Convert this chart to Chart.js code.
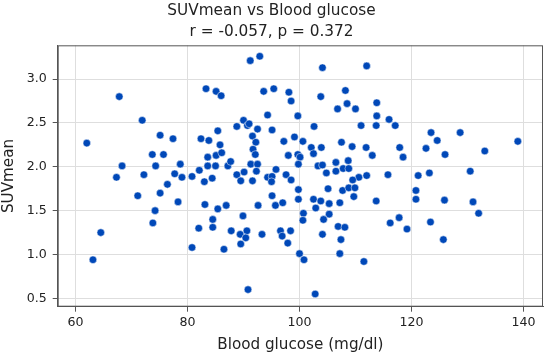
<!DOCTYPE html>
<html lang="en">
<head>
  <meta charset="UTF-8">
  <title>SUVmean vs Blood glucose</title>
  <style>
    body { margin: 0; background: #fff; }
    #chartBox { width: 550px; height: 358px; }
  </style>
</head>
<body>
<div id="chartBox">
  <canvas id="myChart" width="550" height="358"></canvas>
</div>
<script src="https://cdn.jsdelivr.net/npm/chart.js"></script>
<script>
  // values
  const glucose = [
    67.8, 71.9, 62.0, 75.1, 77.4, 73.7, 75.7, 68.3, 74.3, 78.7,
    67.3, 72.2, 77.7, 79.0, 80.8, 82.1, 84.4, 83.0, 76.4, 83.3,
    85.1, 86.0, 82.4, 83.8, 85.4, 85.8, 83.6, 85.1, 86.1, 83.6,
    85.0, 91.2, 92.9, 104.1, 112.0, 93.6, 95.4, 98.1, 98.5, 103.8,
    108.2, 108.5, 106.8, 110.0, 113.8, 113.8, 113.7, 111.0, 94.3, 99.7,
    102.6, 90.0, 90.7, 91.0, 88.8, 92.5, 95.1, 91.6, 92.2, 99.1,
    100.6, 97.2, 91.7, 92.1, 98.0, 99.7, 100.1, 102.1, 102.5, 103.9,
    107.5, 109.4, 111.9, 113.0, 87.2, 87.7, 91.3, 92.5, 95.8, 92.3,
    99.8, 103.3, 104.1, 104.8, 106.5, 106.5, 107.8, 108.7, 108.8, 112.0,
    110.6, 109.5, 88.8, 90.1, 89.5, 91.6, 94.3, 95.1, 95.0, 97.6,
    98.5, 99.8, 105.1, 107.7, 108.8, 109.9, 95.1, 99.8, 102.5, 103.8,
    105.3, 107.2, 109.7, 113.7, 95.7, 97.0, 92.6, 86.9, 85.4, 102.9,
    105.3, 100.7, 100.6, 104.3, 106.9, 108.1, 89.9, 87.8, 90.6, 89.4,
    90.4, 89.5, 93.3, 96.6, 96.9, 98.4, 97.9, 104.1, 107.4, 86.5,
    100.0, 100.8, 107.2, 111.5, 90.8, 102.8, 71.1, 75.1, 78.3, 83.1,
    74.2, 73.8, 84.5, 82.0, 84.5, 64.5, 63.1, 80.8, 116.0, 117.1,
    123.5, 128.7, 124.6, 139.0, 117.9, 122.6, 118.5, 126.0, 133.1, 115.8,
    121.2, 123.2, 130.5, 120.8, 120.8, 125.9, 131.0, 132.0, 116.2, 117.8,
    119.2, 123.4, 125.7
  ];
  const suvMean = [
    2.80, 2.53, 2.27, 2.36, 2.32, 2.14, 2.14, 2.01, 2.01, 2.03,
    1.88, 1.91, 1.92, 1.88, 1.89, 1.96, 1.87, 1.83, 1.80, 2.89,
    2.86, 2.81, 2.32, 2.30, 2.41, 2.25, 2.11, 2.13, 2.16, 2.01,
    2.01, 3.21, 3.26, 3.13, 3.15, 2.86, 2.89, 2.85, 2.75, 2.80,
    2.87, 2.72, 2.66, 2.66, 2.73, 2.58, 2.47, 2.47, 2.59, 2.58,
    2.46, 2.53, 2.47, 2.49, 2.46, 2.43, 2.42, 2.35, 2.28, 2.34,
    2.29, 2.29, 2.20, 2.14, 2.13, 2.14, 2.11, 2.22, 2.15, 2.22,
    2.28, 2.23, 2.22, 2.13, 2.01, 2.06, 2.03, 2.03, 1.97, 1.95,
    2.03, 2.01, 2.02, 1.93, 2.05, 1.95, 1.98, 2.07, 1.98, 1.90,
    1.88, 1.85, 1.91, 1.94, 1.84, 1.84, 1.88, 1.89, 1.83, 1.91,
    1.85, 1.74, 1.75, 1.73, 1.76, 1.76, 1.67, 1.63, 1.63, 1.61,
    1.58, 1.59, 1.66, 1.61, 1.56, 1.59, 1.56, 1.56, 1.52, 1.53,
    1.46, 1.47, 1.39, 1.40, 1.32, 1.31, 1.44, 1.27, 1.27, 1.23,
    1.19, 1.12, 1.23, 1.27, 1.21, 1.27, 1.13, 1.23, 1.17, 1.06,
    1.01, 0.94, 1.01, 0.92, 0.60, 0.55, 1.67, 1.70, 1.60, 1.57,
    1.50, 1.36, 1.40, 1.30, 1.31, 1.25, 0.94, 1.08, 2.54, 2.47,
    2.39, 2.39, 2.30, 2.29, 2.22, 2.21, 2.11, 2.14, 2.18, 1.91,
    1.90, 1.93, 1.95, 1.73, 1.63, 1.62, 1.60, 1.47, 1.36, 1.42,
    1.29, 1.37, 1.17
  ];
  const xTicks = [60, 80, 100, 120, 140];
  const yTicks = [0.5, 1.0, 1.5, 2.0, 2.5, 3.0];
  const titleLines = ['SUVmean vs Blood glucose', 'r = -0.057, p = 0.372'];

  let points = [];
  for (let i = 0; i < glucose.length; i++) {
    points.push({x: glucose[i], y: suvMean[i]});
  }

  // box round the plot, like the matplotlib frame
  const frame = {
    id: 'frame',
    afterDraw(chart) {
      const a = chart.chartArea;
      const c = chart.ctx;
      c.save();
      c.strokeStyle = '#555555';
      c.lineWidth = 1;
      c.strokeRect(a.left + 0.5, a.top + 0.5, a.right - a.left - 1, a.bottom - a.top - 1);
      c.restore();
    }
  };

  const font = "'DejaVu Sans', sans-serif";
  const ctx = document.getElementById('myChart');
  const myChart = new Chart(ctx, {
    type: 'scatter',
    data: {
      datasets: [{
        data: points,
        backgroundColor: '#0048b8',
        borderColor: '#ffffff',
        borderWidth: 0.5,
        pointRadius: 3.8,
        pointHoverRadius: 3.8
      }]
    },
    options: {
      responsive: false,
      animation: false,
      layout: { padding: { left: 0, right: 7, top: 0, bottom: 0 } },
      plugins: {
        legend: { display: false },
        tooltip: { enabled: false },
        title: {
          display: true,
          text: titleLines,
          color: '#222222',
          font: { family: font, size: 15.3, weight: 'normal', lineHeight: 1.35 },
          padding: { top: 1, bottom: 3 }
        }
      },
      scales: {
        x: {
          type: 'linear',
          min: 56.8,
          max: 143.5,
          afterBuildTicks: (s) => { s.ticks = xTicks.map(v => ({value: v})); },
          afterFit: (s) => { s.height = 51.3; },
          ticks: {
            color: '#222222',
            font: { family: font, size: 12.6 },
            padding: 3,
            maxRotation: 0
          },
          grid: { color: '#dedede', tickColor: '#555555', tickLength: 5 },
          border: { color: '#555555' },
          title: {
            display: true,
            text: 'Blood glucose (mg/dl)',
            color: '#222222',
            font: { family: font, size: 15.2 },
            padding: { top: 0, bottom: 4 }
          }
        },
        y: {
          type: 'linear',
          min: 0.405,
          max: 3.385,
          afterBuildTicks: (s) => { s.ticks = yTicks.map(v => ({value: v})); },
          afterFit: (s) => { s.width = 57.7; },
          ticks: {
            color: '#222222',
            font: { family: font, size: 12.6 },
            padding: 6,
            callback: (v) => v.toFixed(1)
          },
          grid: { color: '#dedede', tickColor: '#555555', tickLength: 5 },
          border: { color: '#555555' },
          title: {
            display: true,
            text: 'SUVmean',
            color: '#222222',
            font: { family: font, size: 15.2 },
            padding: { top: 0, bottom: 0 }
          }
        }
      }
    },
    plugins: [frame]
  });
</script>
</body>
</html>
